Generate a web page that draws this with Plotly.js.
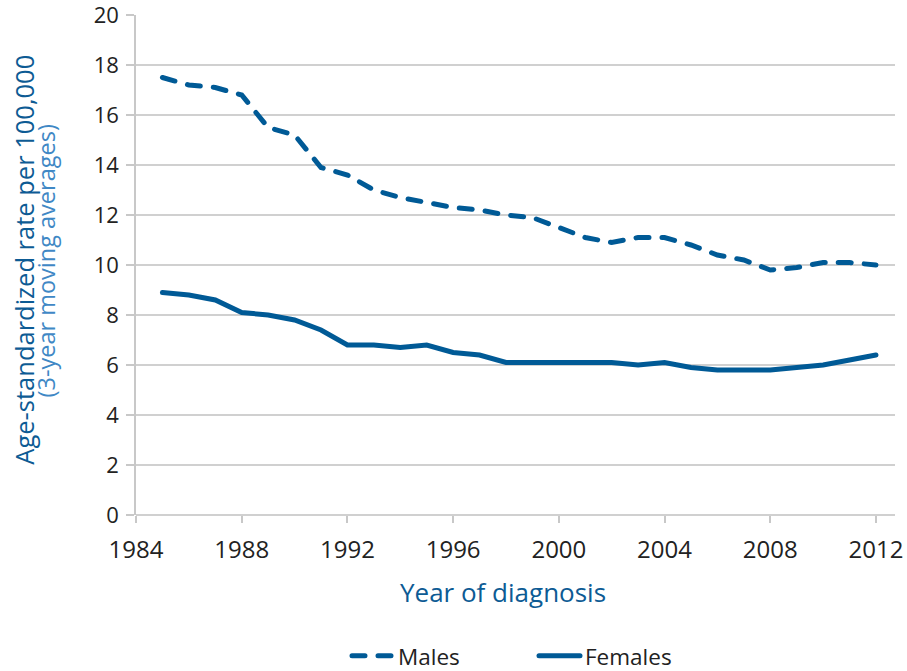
<!DOCTYPE html>
<html>
<head>
<meta charset="utf-8">
<script src="https://cdn.plot.ly/plotly-3.0.1.min.js"></script>
<style>
  html, body { margin: 0; padding: 0; background: #fff; }
  #chart { width: 907px; height: 671px; }
  .js-line { stroke-linecap: round; }
</style>
</head>
<body>
<div id="chart"></div>
<script>
const years = [1985,1986,1987,1988,1989,1990,1991,1992,1993,1994,1995,1996,1997,1998,
               1999,2000,2001,2002,2003,2004,2005,2006,2007,2008,2009,2010,2011,2012];
const males = [17.5,17.2,17.1,16.8,15.5,15.2,13.9,13.6,13.0,12.7,12.5,12.3,12.2,12.0,
               11.9,11.5,11.1,10.9,11.1,11.1,10.8,10.4,10.2,9.8,9.9,10.1,10.1,10.0];
const females = [8.9,8.8,8.6,8.1,8.0,7.8,7.4,6.8,6.8,6.7,6.8,6.5,6.4,6.1,
                 6.1,6.1,6.1,6.1,6.0,6.1,5.9,5.8,5.8,5.8,5.9,6.0,6.2,6.4];
const xTicks = [1984,1988,1992,1996,2000,2004,2008,2012];
const yTicks = [0,2,4,6,8,10,12,14,16,18,20];
const seriesNames = ["Males","Females"];
const yTitle = "Age-standardized rate per 100,000";
const ySubtitle = "(3-year moving averages)";
const xTitle = "Year of diagnosis";

const blue = "#005a96";
const font = "Open Sans, Noto Sans, sans-serif";

const traces = [
  {x: years, y: males, name: seriesNames[0], type: "scatter", mode: "lines",
   line: {color: blue, width: 5, dash: "13px,13px"}},
  {x: years, y: females, name: seriesNames[1], type: "scatter", mode: "lines",
   line: {color: blue, width: 5}}
];

const layout = {
  width: 907, height: 671,
  margin: {l: 136, r: 12, t: 15, b: 156},
  paper_bgcolor: "#fff", plot_bgcolor: "#fff",
  font: {family: font, color: "#222", size: 20},
  showlegend: true,
  legend: {orientation: "h", xref: "paper", x: 0.278, xanchor: "left",
           yref: "container", y: 0.022, yanchor: "middle",
           font: {size: 22.5, color: "#222"}, itemwidth: 41,
           entrywidth: 131, entrywidthmode: "pixels"},
  xaxis: {
    range: [1984, 2012.72], tickvals: xTicks, ticktext: xTicks.map(String),
    showgrid: false, zeroline: false, showline: false,
    ticks: "outside", ticklen: 7, tickcolor: "#c8c8c8", tickwidth: 1.5,
    ticklabelstandoff: 6, ticklabeloverflow: "allow",
    tickfont: {size: 24, color: "#222"}
  },
  yaxis: {
    range: [0, 20], tickvals: yTicks,
    showgrid: true, gridcolor: "#d0d0d0", gridwidth: 2,
    zeroline: true, zerolinecolor: "#d0d0d0", zerolinewidth: 2,
    showline: true, linecolor: "#c8c8c8", linewidth: 1.5,
    ticks: "outside", ticklen: 8, tickcolor: "#c8c8c8", tickwidth: 1.5,
    ticklabelstandoff: 3, ticklabeloverflow: "allow",
    tickfont: {size: 22, color: "#222"}
  },
  annotations: [
    {text: yTitle, textangle: -90, xref: "paper", yref: "paper",
     x: -0.148, y: 0.51, xanchor: "center", yanchor: "middle", showarrow: false,
     font: {size: 25.5, color: "#0d5b94"}},
    {text: ySubtitle, textangle: -90, xref: "paper", yref: "paper",
     x: -0.118, y: 0.508, xanchor: "center", yanchor: "middle", showarrow: false,
     font: {size: 23.5, color: "#3f88c5"}},
    {text: xTitle, xref: "paper", yref: "paper",
     x: 0.4835, y: -0.154, xanchor: "center", yanchor: "middle", showarrow: false,
     font: {size: 26, color: "#0d5b94"}}
  ]
};

Plotly.newPlot("chart", traces, layout, {displayModeBar: false, responsive: false});
</script>
</body>
</html>
